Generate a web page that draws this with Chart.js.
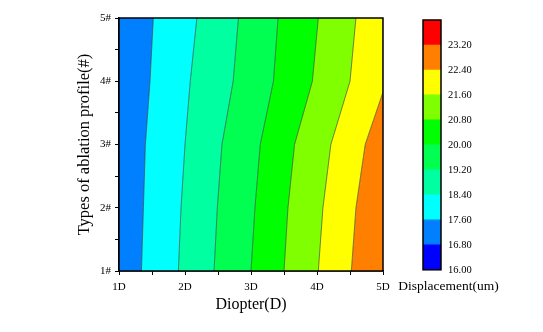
<!DOCTYPE html>
<html>
<head>
<meta charset="utf-8">
<script src="https://cdn.jsdelivr.net/npm/chart.js@4.4.0/dist/chart.umd.min.js"></script>
<style>
  html, body { margin: 0; padding: 0; background: #fff; }
  #wrap { position: relative; width: 543px; height: 332px; }
  #contour { position: absolute; left: 0; top: 0; }
  #colorbar { position: absolute; left: 380px; top: 0; }
</style>
</head>
<body>
<div id="wrap">
  <canvas id="contour" width="543" height="332"></canvas>
  <canvas id="colorbar" width="137" height="332"></canvas>
</div>
<script>
const levels = [16.0, 16.8, 17.6, 18.4, 19.2, 20.0, 20.8, 21.6, 22.4, 23.2, 24.0];
const levelColors = ["#0000ff", "#0080ff", "#00ffff", "#00ffa0", "#00ff50",
                     "#00ff00", "#80ff00", "#ffff00", "#ff8000", "#ff0000"];
const colorbarTicks = [16.0, 16.8, 17.6, 18.4, 19.2, 20.0, 20.8, 21.6, 22.4, 23.2];

// contour lines as [diopter, profile] pairs
const edge_left = [[1, 1], [1, 5]];
const line_17_6 = [[1.34, 1], [1.37, 2], [1.40, 3], [1.47, 4], [1.52, 5]];
const line_18_4 = [[1.90, 1], [1.94, 2], [2.00, 3], [2.08, 4], [2.18, 5]];
const line_19_2 = [[2.44, 1], [2.49, 2], [2.56, 3], [2.73, 4], [2.81, 5]];
const line_20_0 = [[3.00, 1], [3.06, 2], [3.14, 3], [3.34, 4], [3.41, 5]];
const line_20_8 = [[3.50, 1], [3.56, 2], [3.66, 3], [3.93, 4], [4.02, 5]];
const line_21_6 = [[4.02, 1], [4.09, 2], [4.21, 3], [4.50, 4], [4.59, 5]];
const line_22_4 = [[4.52, 1], [4.59, 2], [4.73, 3], [5.00, 3.83], [5.00, 5]];
const edge_right = [[5, 1], [5, 5]];

// band colour index (into levelColors) for the area left of each line
const bands = [
  { line: edge_left, color: null },
  { line: line_17_6, color: 1 },
  { line: line_18_4, color: 2 },
  { line: line_19_2, color: 3 },
  { line: line_20_0, color: 4 },
  { line: line_20_8, color: 5 },
  { line: line_21_6, color: 6 },
  { line: line_22_4, color: 7 },
  { line: edge_right, color: 8 },
];

const serif = "'Liberation Serif', 'DejaVu Serif', serif";

const frame = {
  id: "frame",
  afterDatasetsDraw(chart, args, opts) {
    const { ctx, chartArea: a } = chart;
    ctx.save();
    ctx.strokeStyle = "#000";
    ctx.lineWidth = opts.width || 1.5;
    ctx.strokeRect(a.left, a.top, a.right - a.left, a.bottom - a.top);
    ctx.restore();
  },
};

new Chart(document.getElementById("contour"), {
  type: "line",
  data: {
    datasets: bands.map((b, i) => ({
      data: b.line.map((p) => ({ x: p[0], y: p[1] })),
      borderColor: i === 0 || i === bands.length - 1 ? "rgba(0,0,0,0)" : "rgba(50,60,55,0.8)",
      borderWidth: 0.8,
      backgroundColor: b.color === null ? "rgba(0,0,0,0)" : levelColors[b.color],
      fill: i === 0 ? false : "-1",
      pointRadius: 0,
      tension: 0,
    })),
  },
  plugins: [frame],
  options: {
    indexAxis: "y",
    responsive: false,
    animation: false,
    layout: { padding: { top: 18, right: 160, left: 0, bottom: 0 } },
    plugins: {
      legend: { display: false },
      tooltip: { enabled: false },
      frame: { width: 1.5 },
    },
    scales: {
      x: {
        type: "linear",
        min: 1,
        max: 5,
        afterFit: (s) => { s.height = 61; },
        grid: { drawOnChartArea: false, tickLength: 4, color: "#000" },
        border: { color: "#000", width: 1.5 },
        ticks: {
          stepSize: 0.5,
          autoSkip: false,
          maxRotation: 0,
          color: "#000",
          padding: 6,
          font: { family: serif, size: 11 },
          callback: (v) => (Number.isInteger(v) ? v + "D" : ""),
        },
        title: {
          display: true,
          text: "Diopter(D)",
          color: "#000",
          font: { family: serif, size: 16 },
          padding: { top: 0, bottom: 18 },
        },
      },
      y: {
        type: "linear",
        min: 1,
        max: 5,
        afterFit: (s) => { s.width = 119; },
        grid: { drawOnChartArea: false, tickLength: 4, color: "#000" },
        border: { color: "#000", width: 1.5 },
        ticks: {
          stepSize: 0.5,
          autoSkip: false,
          color: "#000",
          padding: 4,
          font: { family: serif, size: 11 },
          callback: (v) => (Number.isInteger(v) ? v + "#" : ""),
        },
        title: {
          display: true,
          text: "Types of ablation profile(#)",
          color: "#000",
          font: { family: serif, size: 16.5 },
          padding: { top: 75, bottom: 0 },
        },
      },
    },
  },
});

new Chart(document.getElementById("colorbar"), {
  type: "bar",
  data: {
    labels: [""],
    datasets: levelColors.map((c, i) => ({
      data: [[levels[i], levels[i + 1]]],
      backgroundColor: c,
      borderWidth: 0,
      barPercentage: 1,
      categoryPercentage: 1,
      grouped: false,
    })),
  },
  plugins: [frame],
  options: {
    responsive: false,
    animation: false,
    layout: { padding: { top: 20, left: 0, right: 0, bottom: 0 } },
    plugins: {
      legend: { display: false },
      tooltip: { enabled: false },
      frame: { width: 1.5 },
      title: {
        display: true,
        position: "bottom",
        text: "Displacement(um)",
        color: "#000",
        font: { family: serif, size: 13.5, weight: "normal" },
        padding: { top: 9, bottom: 37 },
      },
    },
    scales: {
      x: { display: false },
      spacer: {
        type: "linear",
        position: "left",
        min: 16,
        max: 24,
        afterFit: (s) => { s.width = 43; },
        grid: { display: false, drawTicks: false },
        border: { display: false },
        ticks: { display: false },
      },
      y: {
        position: "right",
        min: 16,
        max: 24,
        afterFit: (s) => { s.width = 76; },
        afterBuildTicks: (s) => { s.ticks = colorbarTicks.map((v) => ({ value: v })); },
        grid: { display: false, drawTicks: false },
        border: { display: false },
        ticks: {
          color: "#000",
          padding: 7,
          font: { family: serif, size: 10.5 },
          callback: (v) => v.toFixed(2),
        },
      },
    },
  },
});
</script>
</body>
</html>
